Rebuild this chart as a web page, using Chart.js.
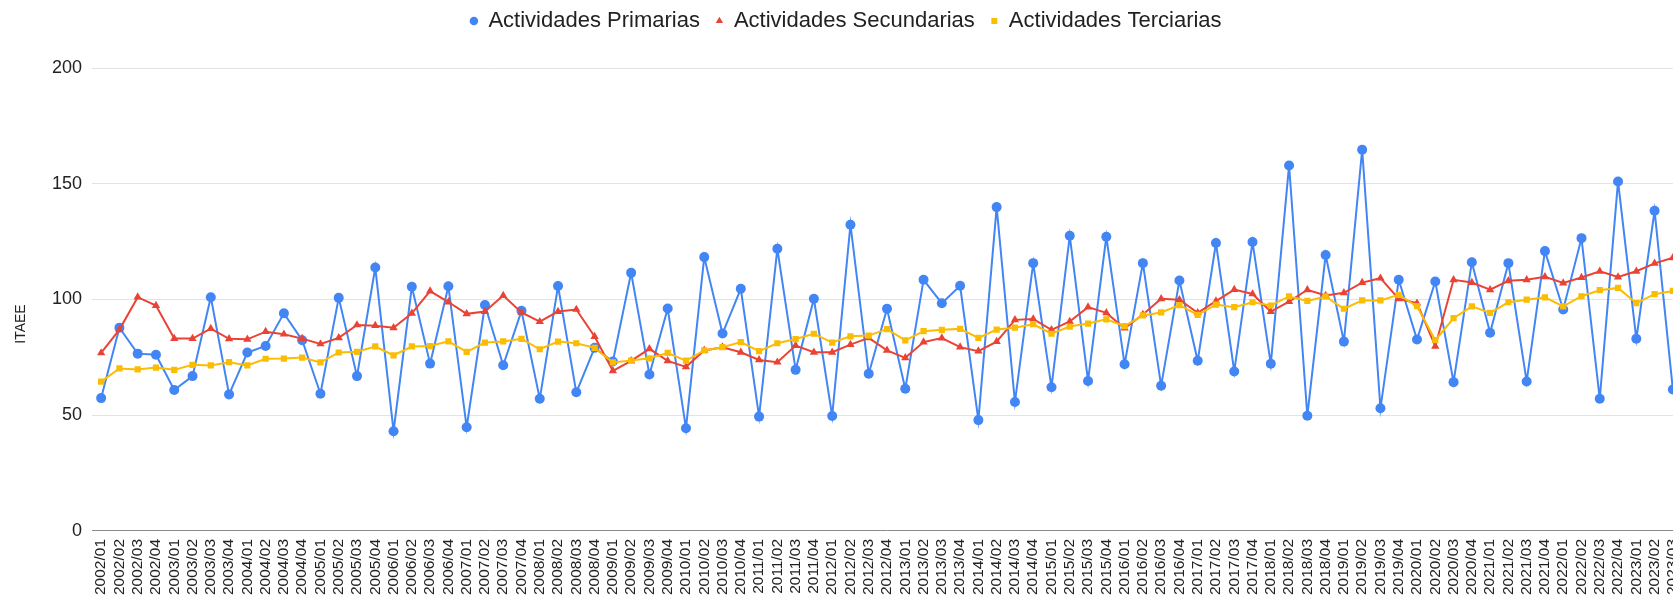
<!DOCTYPE html>
<html>
<head>
<meta charset="utf-8">
<script src="https://cdn.jsdelivr.net/npm/chart.js@4.4.1/dist/chart.umd.min.js"></script>
<style>
  html, body { margin: 0; padding: 0; background: #fff; overflow: hidden; }
  #wrap { width: 1673px; height: 595px; overflow: hidden; position: relative; }
  #myChart { position: absolute; left: 0; top: 0; }
</style>
</head>
<body>
<div id="wrap">
  <canvas id="myChart" width="1706" height="595"></canvas>
</div>
<script>
// data
const years = [2002, 2003, 2004, 2005, 2006, 2007, 2008, 2009, 2010, 2011, 2012,
  2013, 2014, 2015, 2016, 2017, 2018, 2019, 2020, 2021, 2022, 2023];
const quarters = ["01", "02", "03", "04"];
const lastQuarters = 3; // 2023 only up to /03

const labels = [];
years.forEach((y, i) => {
  const n = i === years.length - 1 ? lastQuarters : 4;
  for (let q = 0; q < n; q++) labels.push(y + "/" + quarters[q]);
});

const primarias = [
  57.4, 87.8, 76.6, 76.1, 60.9, 66.9, 101.0, 59.0,
  77.1, 79.9, 94.0, 82.4, 59.3, 100.7, 66.9, 113.8,
  43.1, 105.5, 72.3, 105.7, 44.8, 97.6, 71.6, 95.1,
  57.1, 105.8, 59.9, 79.1, 73.2, 111.5, 67.6, 96.1,
  44.4, 118.3, 85.3, 104.6, 49.4, 121.9, 69.6, 100.3,
  49.7, 132.3, 67.9, 96.0, 61.4, 108.5, 98.4, 105.9,
  47.9, 139.9, 55.7, 115.7, 62.1, 127.5, 64.8, 127.1,
  72.0, 115.7, 62.7, 108.2, 73.5, 124.4, 68.9, 124.8,
  72.2, 157.9, 49.8, 119.2, 81.8, 164.7, 53.0, 108.5,
  82.7, 107.8, 64.3, 116.1, 85.6, 115.7, 64.6, 120.9,
  95.7, 126.5, 57.1, 151.0, 83.0, 138.3, 61.1
];

const secundarias = [
  76.9, 87.0, 101.0, 97.4, 83.1, 83.1, 87.4, 83.0,
  82.8, 86.1, 85.0, 83.1, 80.8, 83.4, 89.0, 88.7,
  87.8, 94.0, 103.6, 98.9, 93.8, 94.8, 101.7, 94.4,
  90.4, 94.8, 95.7, 84.0, 69.2, 73.5, 78.7, 73.5,
  70.9, 78.0, 79.4, 77.2, 73.9, 72.9, 80.1, 77.2,
  77.2, 80.5, 83.4, 78.0, 74.8, 81.6, 83.3, 79.4,
  77.7, 81.8, 91.2, 91.6, 86.9, 90.5, 96.7, 94.2,
  87.6, 93.5, 100.3, 99.9, 94.2, 99.3, 104.3, 102.4,
  94.8, 99.1, 104.2, 101.7, 102.9, 107.3, 109.2, 100.3,
  98.4, 79.8, 108.5, 107.3, 104.2, 108.1, 108.5, 109.8,
  107.1, 109.5, 112.2, 109.7, 112.2, 115.6, 118.0
];

const terciarias = [
  64.5, 70.2, 69.8, 70.6, 69.6, 71.8, 71.5, 72.9,
  71.5, 74.4, 74.5, 74.9, 72.8, 77.1, 77.4, 79.7,
  75.9, 79.7, 79.9, 81.9, 77.4, 81.4, 81.9, 83.0,
  78.5, 81.8, 81.1, 79.1, 72.8, 73.6, 74.6, 76.9,
  73.6, 78.0, 79.4, 81.6, 77.7, 81.1, 82.9, 85.2,
  81.4, 84.1, 84.4, 87.2, 82.3, 86.3, 86.9, 87.3,
  83.4, 87.0, 87.8, 89.3, 85.2, 88.3, 89.6, 91.4,
  88.5, 93.1, 94.4, 97.6, 93.4, 97.8, 96.7, 98.8,
  97.4, 101.3, 99.4, 101.3, 96.0, 99.6, 99.6, 102.0,
  97.1, 82.4, 91.9, 97.0, 94.2, 98.8, 99.9, 100.9,
  97.0, 101.4, 104.0, 105.0, 98.4, 102.3, 103.7
];

const yTicks = [0, 50, 100, 150, 200];

const BLUE = "#4285F4", RED = "#EA4335", YELLOW = "#FBBC04";
const FONT = '"Liberation Sans", Arial, sans-serif';

// y axis title, centered on the whole chart like the sheet does
const yTitle = {
  id: "yTitle",
  afterDraw(chart) {
    const ctx = chart.ctx;
    ctx.save();
    ctx.translate(21, 324);
    ctx.rotate(-Math.PI / 2);
    ctx.font = "14px " + FONT;
    ctx.fillStyle = "#222";
    ctx.textAlign = "center";
    ctx.textBaseline = "middle";
    ctx.fillText("ITAEE", 0, 0);
    ctx.restore();
  }
};

// more room under the legend
const legendGap = {
  id: "legendGap",
  beforeInit(chart) {
    const fit = chart.legend.fit;
    chart.legend.fit = function () {
      fit.bind(chart.legend)();
      this.height += 26;
    };
  }
};

const ds = (label, data, color, style, radius, order) => ({
  label,
  data,
  borderColor: color,
  backgroundColor: color,
  borderWidth: 2,
  pointStyle: style,
  pointRadius: radius,
  pointBorderWidth: 0,
  pointBackgroundColor: color,
  tension: 0,
  order
});

new Chart(document.getElementById("myChart"), {
  type: "line",
  data: {
    labels,
    datasets: [
      ds("Actividades Primarias", primarias, BLUE, "circle", 5, 3),
      ds("Actividades Secundarias", secundarias, RED, "triangle", 4.8, 2),
      ds("Actividades Terciarias", terciarias, YELLOW, "rect", 4.4, 1)
    ]
  },
  options: {
    responsive: false,
    animation: false,
    layout: { padding: { top: -6, right: 24, bottom: -8, left: 10 } },
    plugins: {
      tooltip: { enabled: false },
      legend: {
        position: "top",
        align: "center",
        labels: {
          usePointStyle: true,
          boxWidth: 7,
          boxHeight: 6,
          padding: 16,
          color: "#222",
          font: { family: FONT, size: 22 },
          sort: (a, b) => a.datasetIndex - b.datasetIndex
        }
      }
    },
    scales: {
      x: {
        offset: true,
        grid: { display: false, drawTicks: false },
        border: { display: true, color: "#8a8a8a", width: 1 },
        ticks: {
          autoSkip: false,
          maxRotation: 90,
          minRotation: 90,
          padding: 8,
          color: "#222",
          font: { family: FONT, size: 15.5 }
        }
      },
      y: {
        min: 0,
        max: 200,
        afterBuildTicks: (axis) => { axis.ticks = yTicks.map(v => ({ value: v })); },
        afterFit: (axis) => { axis.width = 82; },
        grid: { color: "#e3e3e3", lineWidth: 1, drawTicks: false },
        border: { display: false },
        ticks: {
          padding: 10,
          color: "#222",
          font: { family: FONT, size: 18 }
        }
      }
    }
  },
  plugins: [yTitle, legendGap]
});
</script>
</body>
</html>
